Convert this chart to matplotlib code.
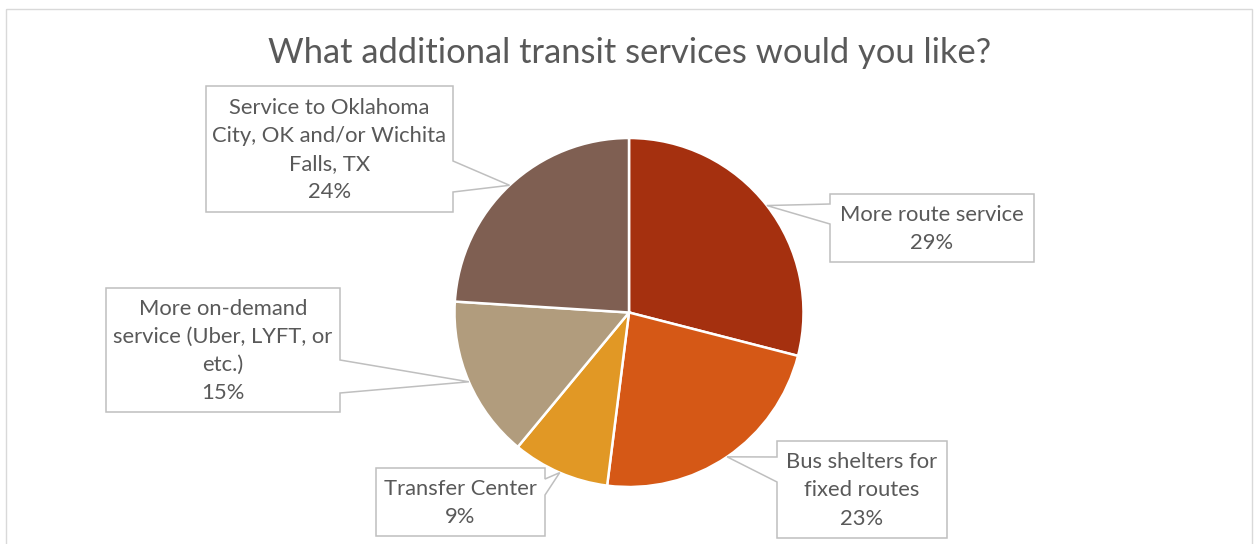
import numpy as np
import matplotlib
matplotlib.use("Agg")
import matplotlib.pyplot as plt
from matplotlib.patches import Polygon, Rectangle

# Data
categories = ["More route service", "Bus shelters for fixed routes", "Transfer Center",
              "More on-demand service (Uber, LYFT, or etc.)",
              "Service to Oklahoma City, OK and/or Wichita Falls, TX"]
label_lines = ["More route service",
               "Bus shelters for\nfixed routes",
               "Transfer Center",
               "More on-demand\nservice (Uber, LYFT, or\netc.)",
               "Service to Oklahoma\nCity, OK and/or Wichita\nFalls, TX"]
shares = [29, 23, 9, 15, 24]
colors = ["#A5300F", "#D55816", "#E19825", "#B19C7D", "#7F5F52"]
title = "What additional transit services would you like?"

W, H = 1254, 544
plt.rcParams['font.family'] = ['Lato', 'DejaVu Sans']
text_color = "#595959"
box_color = "#BFBFBF"

fig = plt.figure(figsize=(W / 100, H / 100), dpi=100)
fig.patch.set_facecolor("white")

# Background axes in pixel coordinates (y downward)
bg = fig.add_axes([0, 0, 1, 1])
bg.set_xlim(0, W)
bg.set_ylim(H, 0)
bg.axis("off")
bg.add_patch(Rectangle((6, 9), 1246, 560, fill=False, edgecolor="#D9D9D9", lw=1.0))
bg.text(630, 53, title, ha="center", va="center", fontsize=24.8, color=text_color)

# Pie placement (pixels)
cx, cy, r = 629, 312.5, 174.5
pie_ax = fig.add_axes([(cx - r) / W, (H - cy - r) / H, 2 * r / W, 2 * r / H])
pie_ax.pie(shares, colors=colors, startangle=90, counterclock=False,
           wedgeprops=dict(edgecolor="white", linewidth=1.8))
pie_ax.set_xlim(-1, 1)
pie_ax.set_ylim(-1, 1)
pie_ax.axis("off")

# Overlay axes for callouts
ov = fig.add_axes([0, 0, 1, 1])
ov.set_xlim(0, W)
ov.set_ylim(H, 0)
ov.axis("off")
ov.patch.set_alpha(0)

# Callout boxes: (left, top, right, bottom), side with pointer, pointer base span
box_rects = [(830, 194, 1034, 262), (777, 441, 947, 538), (376, 468, 545, 536),
             (106, 288, 340, 412), (206, 86, 453, 212)]
box_sides = ["left", "left", "right", "right", "right"]
box_bases = [(204, 224), (457, 482), (479, 495), (360, 393), (161, 192)]

total = sum(shares)
cum = 0
for (l, t, rt, b), side, (y0, y1), lab, v in zip(box_rects, box_sides, box_bases,
                                                   label_lines, shares):
    ang = np.deg2rad(90 - 360 * (cum + v / 2) / total)
    cum += v
    tip = (cx + r * np.cos(ang), cy - r * np.sin(ang))
    if side == "left":
        pts = [(l, t), (rt, t), (rt, b), (l, b), (l, y1), tip, (l, y0)]
    else:
        pts = [(l, t), (rt, t), (rt, y0), tip, (rt, y1), (rt, b), (l, b)]
    ov.add_patch(Polygon(pts, closed=True, facecolor="white", edgecolor=box_color,
                         lw=1.1, joinstyle="miter"))
    ov.text((l + rt) / 2, (t + b) / 2 + 1, f"{lab}\n{v}%", ha="center", va="center",
            fontsize=15.8, color=text_color, linespacing=1.52)

fig.savefig("out.png", dpi=100)
